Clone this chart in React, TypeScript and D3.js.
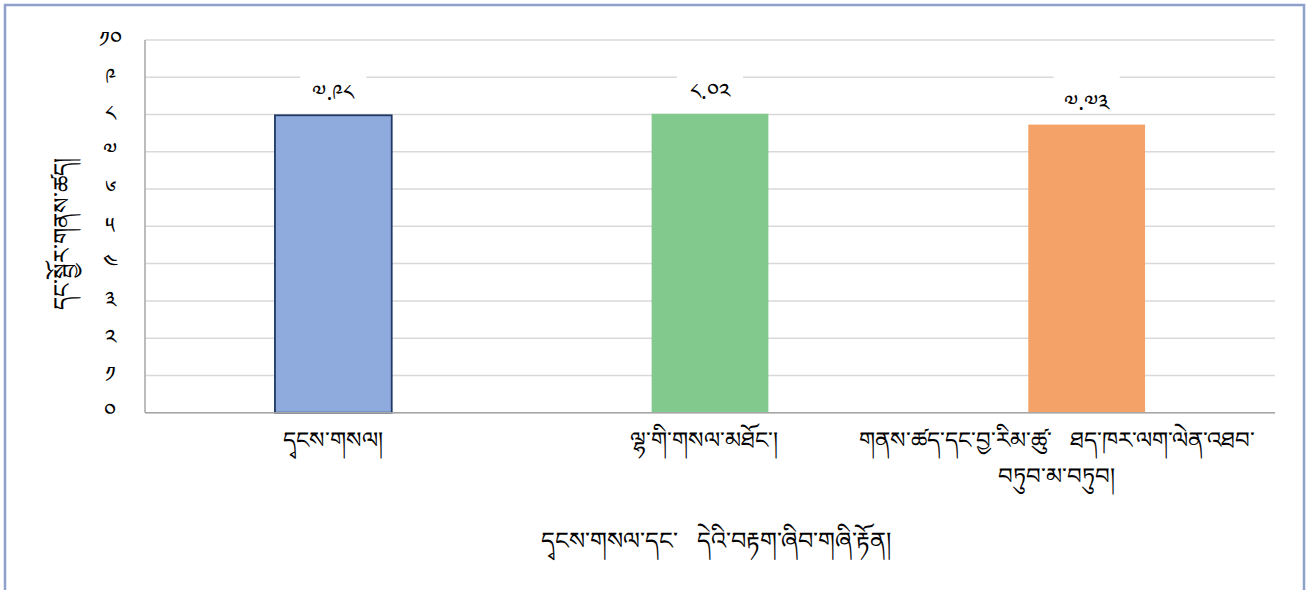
import React from "react";
import * as d3 from "d3";

const categories: string[][] = [
  ["དྭངས་གསལ།"],
  ["ལྷ་གི་གསལ་མཐོང་།"],
  ["གནས་ཚད་དང་བྱ་རིམ་ཚུ་   ཐད་ཁར་ལག་ལེན་འཐབ་", "བཏུབ་མ་བཏུབ།"],
];
const values: number[] = [7.98, 8.02, 7.73];
const valueLabels: string[] = ["༧.༩༨", "༨.༠༢", "༧.༧༣"];
const tickValues: number[] = [0, 1, 2, 3, 4, 5, 6, 7, 8, 9, 10];
const tickLabels: string[] = ["༠", "༡", "༢", "༣", "༤", "༥", "༦", "༧", "༨", "༩", "༡༠"];
const colors: string[] = ["#8faadc", "#82c98e", "#f4a268"];
const strokes: string[] = ["#203864", "none", "none"];
const yTitle = "དང་སྦྱོར་གནས་ཚད།";
const xTitle = "དྭངས་གསལ་དང་   དེའི་བརྟག་ཞིབ་གཞི་རྟོན།";

const W = 1307;
const H = 590;
const left = 145;
const right = 1275;
const top = 40;
const bottom = 412.7;
const FONT = "'Noto Sans', 'DejaVu Sans', sans-serif";
const labelShift: number[] = [0, -6, -30];

export default function App() {
  const x = d3
    .scaleBand<number>()
    .domain(d3.range(values.length))
    .range([left, right])
    .paddingInner(0.69)
    .paddingOuter(0.345);
  const y = d3.scaleLinear().domain([0, 10]).range([bottom, top]);
  const bw = x.bandwidth();

  return (
    <svg
      width={W}
      height={H}
      style={{ position: "absolute", left: 0, top: 0, background: "#fff" }}
      fontFamily={FONT}
    >
      <rect x={5} y={5} width={1299} height={600} fill="#fff" stroke="#8ea0cc" strokeWidth={2.5} />
      {tickValues.map((t) => (
        <line
          key={"g" + t}
          x1={left}
          x2={right}
          y1={y(t)}
          y2={y(t)}
          stroke="#d9d9d9"
          strokeWidth={1.5}
        />
      ))}
      {tickValues.map((t, i) => (
        <text
          key={"t" + t}
          x={110}
          y={y(t)}
          dy="0.3em"
          textAnchor="middle"
          fontSize={22}
          fill="#000"
        >
          {tickLabels[i]}
        </text>
      ))}
      {values.map((v, i) => (
        <g key={"b" + i}>
          <rect
            x={x(i)!}
            y={y(v)}
            width={bw}
            height={bottom - y(v)}
            fill={colors[i]}
            stroke={strokes[i]}
            strokeWidth={strokes[i] === "none" ? 0 : 1.8}
          />
          <rect x={x(i)! + bw / 2 - 33} y={72} width={66} height={36} fill="#fff" />
          <text
            x={x(i)! + bw / 2}
            y={y(v) - 15}
            textAnchor="middle"
            fontSize={22}
            fill="#000"
          >
            {valueLabels[i]}
          </text>
        </g>
      ))}
      <line x1={left} x2={left} y1={top} y2={bottom} stroke="#a6a6a6" strokeWidth={1.5} />
      <line x1={left} x2={right} y1={bottom} y2={bottom} stroke="#a6a6a6" strokeWidth={1.5} />
      {categories.map((lines, i) =>
        lines.map((ln, j) => (
          <text
            key={"c" + i + "-" + j}
            x={x(i)! + bw / 2 + labelShift[i]}
            y={448 + j * 36}
            textAnchor="middle"
            fontSize={23}
            fill="#000"
            style={{ whiteSpace: "pre" }}
          >
            {ln}
          </text>
        ))
      )}
      <text
        transform={`translate(70, 234) rotate(-90)`}
        textAnchor="middle"
        fontSize={23}
        fill="#000"
      >
        {yTitle}
      </text>
      <text
        x={716}
        y={549}
        textAnchor="middle"
        fontSize={24}
        fill="#000"
        style={{ whiteSpace: "pre" }}
      >
        {xTitle}
      </text>
    </svg>
  );
}
